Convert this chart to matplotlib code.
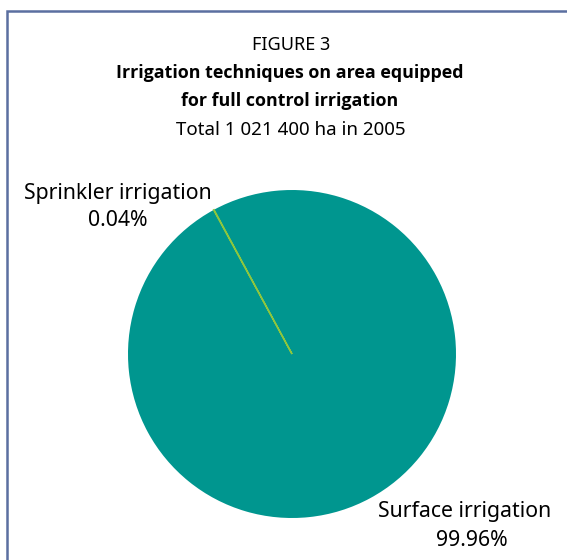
import matplotlib.pyplot as plt
from matplotlib.patches import Rectangle

# data
techniques = ['Sprinkler irrigation', 'Surface irrigation']
shares = [0.04, 99.96]
colors = ['#8dc63f', '#00968f']

plt.rcParams['font.family'] = ['Noto Sans', 'DejaVu Sans']

W, H = 567, 560
fig = plt.figure(figsize=(W / 100, H / 100), dpi=100)

# pie axes: centre (292, 354) px, radius 164 px
cx, cy, r = 292, 354, 164
ax = fig.add_axes([(cx - r) / W, (H - cy - r) / H, 2 * r / W, 2 * r / H])

wedges, _ = ax.pie(shares, colors=colors, startangle=118.4, counterclock=True,
                   radius=1.0)
# the tiny sprinkler slice gets a visible outline, drawn on top
wedges[0].set_edgecolor(colors[0])
wedges[0].set_linewidth(1.1)
wedges[0].set_zorder(5)
ax.set_xlim(-1, 1)
ax.set_ylim(-1, 1)

def px(x, y):
    return (x - cx) / r, (cy - y) / r

lab_fs = 15.3
x, y = px(118, 193)
ax.text(x, y, techniques[0], ha='center', va='center', fontsize=lab_fs)
x, y = px(118, 220)
ax.text(x, y, '%.2f%%' % shares[0], ha='center', va='center', fontsize=lab_fs)
x, y = px(465, 512)
ax.text(x, y, techniques[1], ha='center', va='center', fontsize=lab_fs)
x, y = px(472, 541)
ax.text(x, y, '%.2f%%' % shares[1], ha='center', va='center', fontsize=lab_fs)

# titles
fig.text(291 / W, 1 - 45 / H, 'FIGURE 3', ha='center', va='center', fontsize=13)
fig.text(290 / W, 1 - 73 / H, 'Irrigation techniques on area equipped',
         ha='center', va='center', fontsize=12.9, fontweight='bold',
         family=['Open Sans', 'DejaVu Sans'])
fig.text(290 / W, 1 - 101 / H, 'for full control irrigation',
         ha='center', va='center', fontsize=12.9, fontweight='bold',
         family=['Open Sans', 'DejaVu Sans'])
fig.text(291 / W, 1 - 130 / H, 'Total 1 021 400 ha in 2005',
         ha='center', va='center', fontsize=13.5)

# frame
fig.patches.append(Rectangle((7 / W, -0.1), 1.2, (H - 11) / H + 0.1,
                             transform=fig.transFigure, fill=False,
                             edgecolor='#5b6fa0', linewidth=1.8))

plt.savefig('out.png', dpi=100)
